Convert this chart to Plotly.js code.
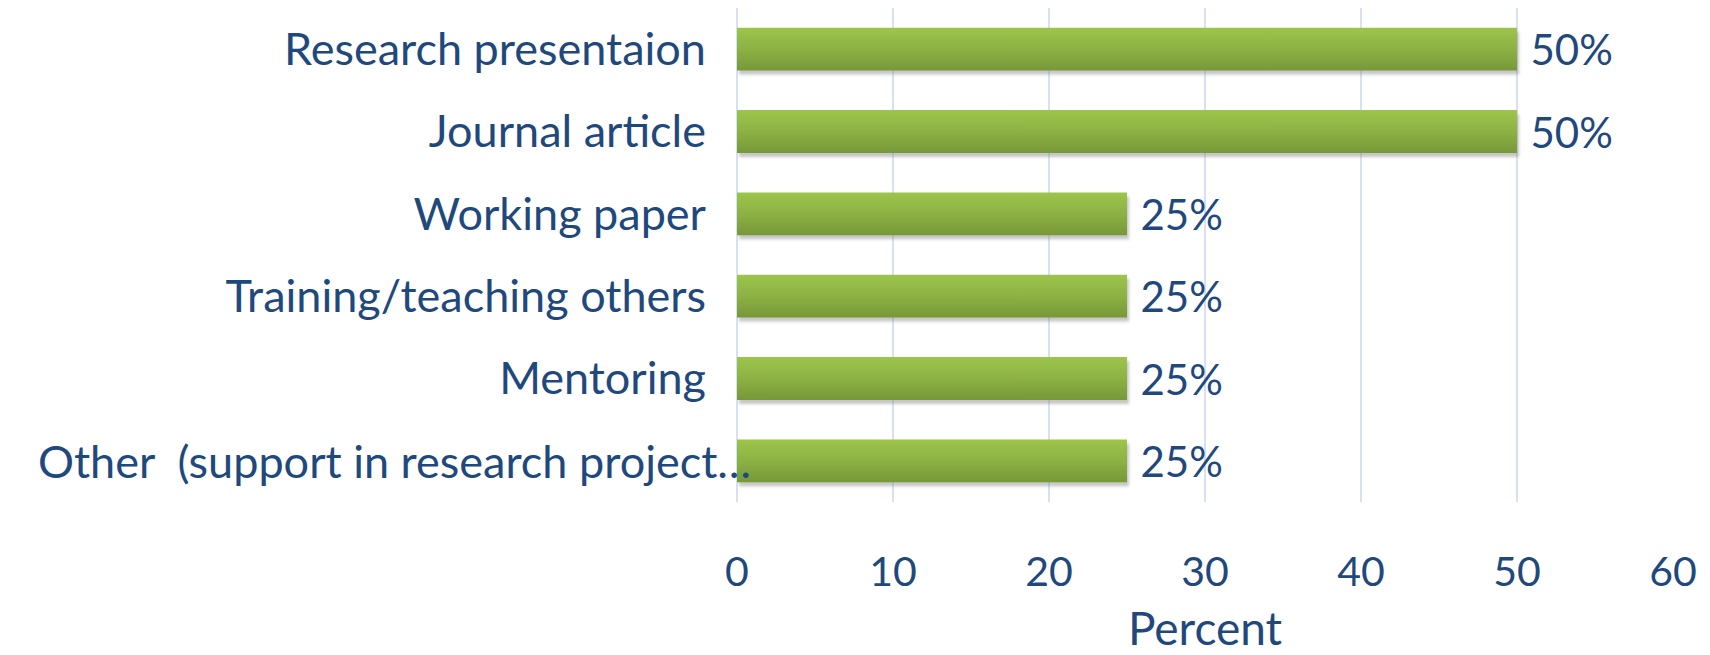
<!DOCTYPE html>
<html><head><meta charset="utf-8">
<script src="https://cdn.plot.ly/plotly-3.0.1.min.js"></script>
<style>html,body{margin:0;padding:0;background:#fff;}#chart{width:1710px;height:655px;}</style>
</head><body><div id="chart"></div>
<script>
const categories = ["Research presentaion","Journal article","Working paper","Training/teaching others","Mentoring","Other  (support in research project…"];
const percents = [50, 50, 25, 25, 25, 25];
const xTicks = [0, 10, 20, 30, 40, 50, 60];

const textColor = "#1F497D";
const fontFam = "Lato, 'Open Sans', sans-serif";

// The last (long) category label overflows into the plot in the reference,
// so it is drawn as an annotation anchored on its category; the rest are tick labels.
const longIdx = categories.length - 1;
const tickTexts = categories.map((c, i) => i === longIdx ? "" : c);

const trace = {
  type: "bar",
  orientation: "h",
  y: categories,
  x: percents,
  text: percents.map(v => "\u2005" + v + "%"),
  textposition: "outside",
  constraintext: "none",
  cliponaxis: false,
  textfont: {family: fontFam, size: 42, color: textColor},
  marker: {color: "#8CB244"},
  hoverinfo: "none"
};

const layout = {
  width: 1710, height: 655,
  margin: {l: 737, r: 37, t: 8, b: 153},
  paper_bgcolor: "#fff", plot_bgcolor: "#fff",
  bargap: 0.48,
  showlegend: false,
  font: {family: fontFam, color: textColor, size: 40},
  xaxis: {
    range: [0, 60], tickvals: xTicks, ticktext: xTicks.map(String),
    showgrid: true, gridcolor: "#D6E2F3", gridwidth: 1.5,
    zeroline: true, zerolinecolor: "#D6E2F3", zerolinewidth: 1.5,
    showline: false, ticks: "", ticklabelstandoff: 42,
    tickfont: {family: fontFam, size: 41, color: textColor},
    title: {text: "Percent", font: {family: fontFam, size: 46, color: textColor}, standoff: 33}
  },
  yaxis: {
    type: "category", autorange: "reversed",
    tickvals: categories, ticktext: tickTexts,
    showgrid: false, zeroline: false, showline: false, ticks: "",
    ticklabelstandoff: 30,
    tickfont: {family: fontFam, size: 45, color: textColor}
  },
  annotations: [{
    x: 0, xref: "x", y: categories[longIdx], yref: "y",
    text: categories[longIdx], showarrow: false,
    xanchor: "right", yanchor: "middle", xshift: 16,
    font: {family: fontFam, size: 45, color: textColor}
  }]
};

Plotly.newPlot("chart", [trace], layout, {staticPlot: true, displayModeBar: false}).then(gd => {
  const svgNS = "http://www.w3.org/2000/svg";
  const svg = gd.querySelector("svg.main-svg");
  let defs = svg.querySelector("defs");
  if (!defs) { defs = document.createElementNS(svgNS, "defs"); svg.insertBefore(defs, svg.firstChild); }
  const grad = document.createElementNS(svgNS, "linearGradient");
  grad.setAttribute("id", "barGrad");
  grad.setAttribute("x1", "0"); grad.setAttribute("y1", "0");
  grad.setAttribute("x2", "0"); grad.setAttribute("y2", "1");
  [["0", "#9DC54B"], ["0.5", "#8DB144"], ["1", "#779838"]].forEach(([o, c]) => {
    const s = document.createElementNS(svgNS, "stop");
    s.setAttribute("offset", o); s.setAttribute("stop-color", c);
    grad.appendChild(s);
  });
  defs.appendChild(grad);
  const filt = document.createElementNS(svgNS, "filter");
  filt.setAttribute("id", "barShadow");
  filt.setAttribute("x", "-5%"); filt.setAttribute("y", "-20%");
  filt.setAttribute("width", "110%"); filt.setAttribute("height", "150%");
  const ds = document.createElementNS(svgNS, "feDropShadow");
  ds.setAttribute("dx", "2"); ds.setAttribute("dy", "4");
  ds.setAttribute("stdDeviation", "1.5");
  ds.setAttribute("flood-color", "#808080"); ds.setAttribute("flood-opacity", "0.45");
  filt.appendChild(ds);
  defs.appendChild(filt);
  gd.querySelectorAll(".barlayer .point path").forEach(p => {
    p.style.fill = "url(#barGrad)";
    p.setAttribute("filter", "url(#barShadow)");
  });
});
</script></body></html>
